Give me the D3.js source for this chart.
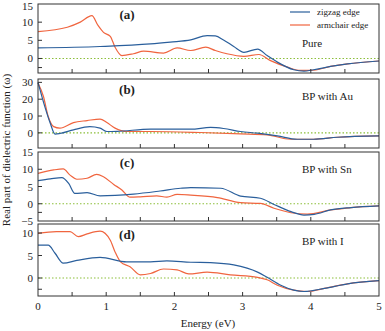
<!DOCTYPE html>
<html>
<head>
<meta charset="utf-8">
<script src="https://cdn.jsdelivr.net/npm/d3@7"></script>
<style>
body { margin: 0; background: #fff; }
svg text { font-family: "Liberation Serif", "DejaVu Serif", serif; fill: #222; }
</style>
</head>
<body>
<div id="chart"></div>
<script>
// energy (eV) / value pairs
const pureZigzag = [[0,2.9],[0.91,3.3],[1.65,4.0],[1.94,4.5],[2.24,5.1],[2.48,6.3],[2.6,6.2],[2.72,5.1],[2.87,3.3],[3.02,1.7],[3.22,2.6],[3.36,0.8],[3.51,-1.0],[3.75,-3.1],[3.9,-3.5],[4.04,-3.1],[4.29,-2.2],[4.54,-1.5],[5,-0.7]];
const pureArmchair = [[0,7.4],[0.43,8.6],[0.62,10],[0.79,11.8],[0.88,9.1],[0.96,7.2],[1.06,6.1],[1.13,3.1],[1.23,0.8],[1.4,1.3],[1.55,2.0],[1.84,1.5],[2.04,2.9],[2.24,2.2],[2.46,3.1],[2.6,2.2],[2.77,1.3],[3.02,0.6],[3.24,1.1],[3.41,-0.6],[3.66,-2.4],[3.85,-3.3],[4,-3.3],[4.29,-2.2],[4.54,-1.5],[5,-0.7]];

const auZigzag = [[0,30],[0.1,15.6],[0.18,5.7],[0.25,-0.7],[0.32,-0.4],[0.52,1.8],[0.76,3.7],[0.91,2.8],[1.01,0.8],[1.16,0.9],[1.65,2.2],[2.24,2.2],[2.53,3.2],[2.72,2.6],[2.97,0.8],[3.22,-0.2],[3.51,-1.8],[3.8,-3.8],[4.04,-3.8],[4.39,-2.6],[5,-1.8]];
const auArmchair = [[0,29.6],[0.08,21.6],[0.15,9.7],[0.23,3.7],[0.32,2.8],[0.52,6.1],[0.72,7.3],[0.91,8.2],[1.01,6.1],[1.13,2.8],[1.3,0.8],[1.65,0.8],[2.38,0.2],[2.97,-0.6],[3.36,-1.2],[3.7,-3.8],[4.04,-3.8],[4.39,-2.6],[5,-1.8]];

const snZigzag = [[0,6.7],[0.18,7.2],[0.35,7.6],[0.45,5.9],[0.54,3.0],[0.72,3.2],[0.91,2.3],[1.4,2.8],[1.79,3.7],[2.09,4.5],[2.24,4.7],[2.68,4.5],[2.97,2.2],[3.26,1.6],[3.46,-0.2],[3.71,-2.3],[3.9,-3.3],[4.05,-3.1],[4.29,-1.8],[4.59,-1.1],[5,-0.6]];
const snArmchair = [[0,8.8],[0.23,9.8],[0.37,10.1],[0.47,8.3],[0.57,7.1],[0.72,7.4],[0.86,8.5],[0.96,7.8],[1.11,5.6],[1.23,4.0],[1.35,1.9],[1.5,2.0],[1.74,2.3],[1.89,1.9],[2.04,2.7],[2.24,2.5],[2.63,1.8],[2.97,0.3],[3.26,0.1],[3.46,-1.3],[3.71,-2.6],[3.95,-3.0],[4.29,-1.8],[4.59,-1.1],[5,-0.6]];

const iZigzag = [[0,7.3],[0.15,7.3],[0.25,5.5],[0.37,3.3],[0.57,3.9],[0.91,4.6],[1.3,3.6],[1.65,3.6],[1.89,3.8],[2.24,3.5],[2.53,3.4],[2.87,2.9],[3.22,1.3],[3.36,0.15],[3.56,-1.6],[3.75,-2.7],[3.9,-3.0],[4.2,-2.3],[4.54,-1.3],[5,-0.6]];
const iArmchair = [[0,9.9],[0.27,10.3],[0.47,10.3],[0.59,9.2],[0.72,9.8],[0.91,10.4],[1.06,8.4],[1.13,5.8],[1.21,3.6],[1.35,2.5],[1.5,0.7],[1.65,1.0],[1.84,2.0],[2.04,1.8],[2.21,0.9],[2.48,1.3],[2.82,0.7],[3.22,0.15],[3.36,-0.4],[3.51,-1.6],[3.75,-2.7],[3.95,-3.0],[4.2,-2.3],[4.54,-1.3],[5,-0.6]];

const panelLabels = ["(a)", "(b)", "(c)", "(d)"];
const panelNotes = ["Pure", "BP with Au", "BP with Sn", "BP with I"];
const yDomains = [[-4, 15], [-9, 32], [-5, 15], [-4, 12]];
const yTickValues = [[0, 5, 10, 15], [0, 10, 20, 30], [-5, 0, 5, 10, 15], [0, 5, 10]];
const xTickLabels = [0, 1, 2, 3, 4, 5];
const seriesNames = ["zigzag edge", "armchair edge"];

const zigzagSets = [pureZigzag, auZigzag, snZigzag, iZigzag];
const armchairSets = [pureArmchair, auArmchair, snArmchair, iArmchair];

const width = 385, height = 331;
const blue = "#2a5f9c", orange = "#f0653f";
const panelBox = [[4, 73], [79, 148], [152, 221], [224, 296]];
const left = 38, right = 379;
const font = "'Liberation Serif', 'DejaVu Serif', serif";

const svg = d3.select('#chart').append('svg').attr('width', width).attr('height', height)
    .attr('font-family', font);

const x = d3.scaleLinear().domain([0, 5]).range([left, right]);
const halfTicks = d3.range(0.5, 5, 0.5);

panelBox.forEach(function (box, i) {
    const y = d3.scaleLinear().domain(yDomains[i]).range([box[1], box[0]]);
    const g = svg.append('g');

    const line = d3.line().x(d => x(d[0])).y(d => y(d[1])).curve(d3.curveMonotoneX);

    // zero line
    g.append('line')
        .attr('x1', left).attr('x2', right)
        .attr('y1', y(0)).attr('y2', y(0))
        .attr('stroke', '#8cbf3a').attr('stroke-width', 1.1)
        .attr('stroke-dasharray', '1.5,2');

    g.append('path').datum(armchairSets[i]).attr('d', line)
        .attr('fill', 'none').attr('stroke', orange).attr('stroke-width', 1.2);
    g.append('path').datum(zigzagSets[i]).attr('d', line)
        .attr('fill', 'none').attr('stroke', blue).attr('stroke-width', 1.2);

    // frame
    g.append('rect')
        .attr('x', left).attr('y', box[0])
        .attr('width', right - left).attr('height', box[1] - box[0])
        .attr('fill', 'none').attr('stroke', '#333').attr('stroke-width', 1);

    // x ticks inward
    g.selectAll('.xt').data(halfTicks).enter().append('line')
        .attr('x1', d => x(d)).attr('x2', d => x(d))
        .attr('y1', box[1]).attr('y2', box[1] - 4)
        .attr('stroke', '#333');

    // y ticks inward
    const yt = yTickValues[i].filter(v => y(v) > box[0] + 1 && y(v) < box[1] - 1);
    if (i !== 1) yt.push(-2.5);
    g.selectAll('.yt').data(yt).enter().append('line')
        .attr('x1', left).attr('x2', left + 4)
        .attr('y1', d => y(d)).attr('y2', d => y(d))
        .attr('stroke', '#333');

    g.selectAll('.yl').data(yTickValues[i]).enter().append('text')
        .attr('x', left - 5).attr('y', d => Math.max(y(d) + 4, 10))
        .attr('text-anchor', 'end').attr('font-size', 11)
        .text(d => d < 0 ? '\u2212' + Math.abs(d) : d);

    g.append('text')
        .attr('x', 127).attr('y', box[0] + 15)
        .attr('text-anchor', 'middle').attr('font-size', 13).attr('font-weight', 'bold')
        .text(panelLabels[i]);

    g.append('text')
        .attr('x', 302).attr('y', i === 0 ? box[0] + 43 : box[0] + 21)
        .attr('font-size', 11)
        .text(panelNotes[i]);
});

// legend in panel (a)
[blue, orange].forEach(function (c, k) {
    const ly = 12 + k * 13;
    svg.append('line').attr('x1', 290).attr('x2', 310).attr('y1', ly).attr('y2', ly)
        .attr('stroke', c).attr('stroke-width', 1.2);
    svg.append('text').attr('x', 317).attr('y', ly + 3).attr('font-size', 9)
        .text(seriesNames[k]);
});

// x labels on bottom panel
svg.selectAll('.xl').data(xTickLabels).enter().append('text')
    .attr('x', d => x(d)).attr('y', 310)
    .attr('text-anchor', 'middle').attr('font-size', 11)
    .text(d => d);

svg.append('text')
    .attr('x', 208).attr('y', 327)
    .attr('text-anchor', 'middle').attr('font-size', 11)
    .text('Energy (eV)');

svg.append('text')
    .attr('transform', 'translate(10,150) rotate(-90)')
    .attr('text-anchor', 'middle').attr('font-size', 11)
    .text('Real part of dielectric function (\u03c9)');
</script>
</body>
</html>
